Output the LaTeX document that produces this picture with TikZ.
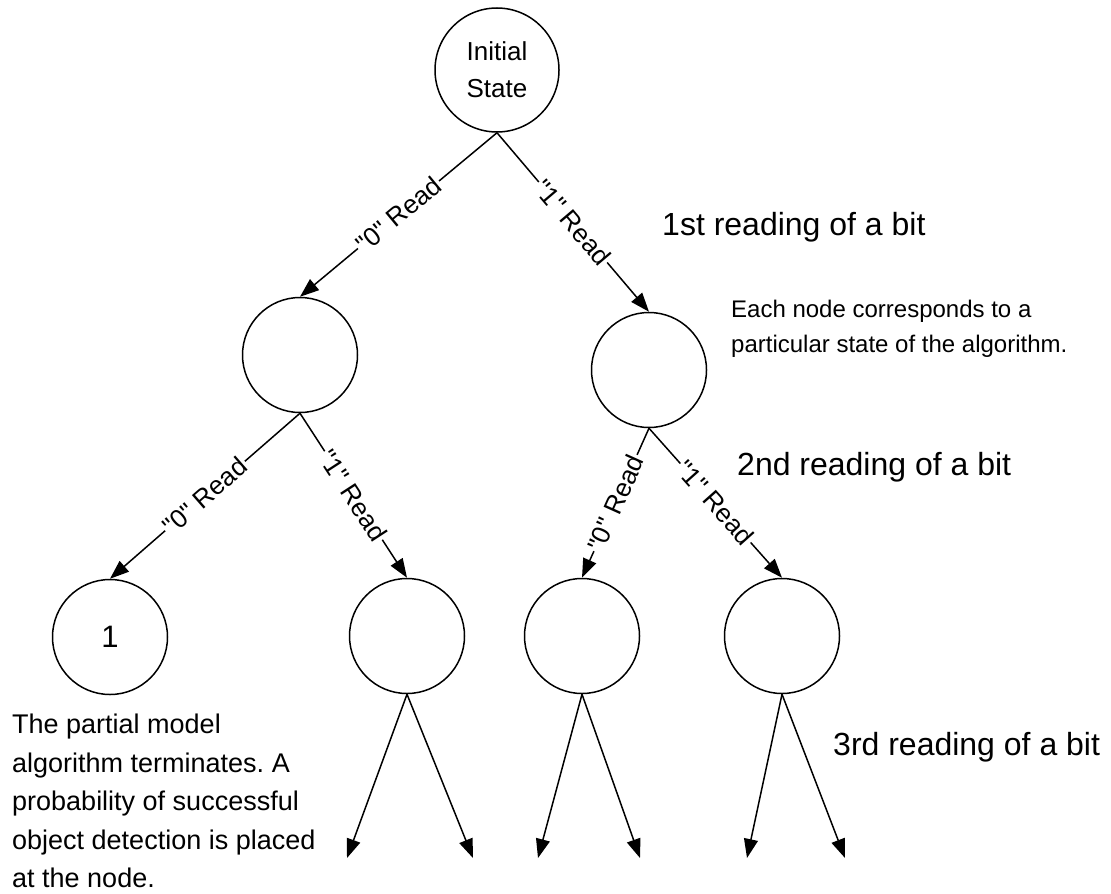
\documentclass[tikz,border=0pt]{standalone}
\usepackage{fontspec}
\setmainfont{Liberation Sans}
\usetikzlibrary{arrows.meta}
\frenchspacing
\newcommand{\qq}[1]{\textquotedbl#1\textquotedbl}
\begin{document}
\begin{tikzpicture}[x=1pt,y=-1pt,
  state/.style={draw, circle, line width=1.5pt, inner sep=0pt, minimum size=115pt},
  arr/.style={line width=1.5pt, -{Triangle[length=19pt,width=14pt]}},
  lbl/.style={sloped, fill=white, inner sep=1.5pt, font=\fontsize{26}{26}\selectfont},
  big/.style={anchor=base west, inner sep=0pt, font=\fontsize{32}{32}\selectfont},
  note/.style={anchor=north west, align=left, inner sep=0pt},
]
\useasboundingbox[fill=white] (0,0) rectangle (1111,894);

% nodes
\node[state, minimum size=124pt, align=center, font=\fontsize{26}{37}\selectfont] (root) at (497,70) {Initial\\State};
\node[state] (l1a) at (300,355) {};
\node[state] (l1b) at (649,370) {};
\node[state, font=\fontsize{31}{31}\selectfont] (l2a) at (110,637) {1};
\node[state] (l2b) at (407,636) {};
\node[state] (l2c) at (582,636) {};
\node[state] (l2d) at (782,636) {};

% free ends
\coordinate (e1) at (347,858);
\coordinate (e2) at (473,858);
\coordinate (e3) at (538,858);
\coordinate (e4) at (640,858);
\coordinate (e5) at (747,858);
\coordinate (e6) at (845,858);

% connectors
\draw[arr] (root.south) -- node[lbl] {\qq{0} Read} (l1a.north);
\draw[arr] (root.south) -- node[lbl] {\qq{1} Read} (l1b.north);
\draw[arr] (l1a.south) -- node[lbl] {\qq{0} Read} (l2a.north);
\draw[arr] (l1a.south) -- node[lbl] {\qq{1} Read} (l2b.north);
\draw[arr] (l1b.south) -- node[lbl] {\qq{0} Read} (l2c.north);
\draw[arr] (l1b.south) -- node[lbl] {\qq{1} Read} (l2d.north);
\draw[arr] (l2b.south) -- (e1);
\draw[arr] (l2b.south) -- (e2);
\draw[arr] (l2c.south) -- (e3);
\draw[arr] (l2c.south) -- (e4);
\draw[arr] (l2d.south) -- (e5);
\draw[arr] (l2d.south) -- (e6);

% texts
\node[big] (t1) at (662,235) {1st reading of a bit};
\node[big] (t2) at (737,475) {2nd reading of a bit};
\node[big] (t3) at (833,755) {3rd reading of a bit};
\node[note, font=\fontsize{24}{35}\selectfont] (n1) at (731,300) {Each node corresponds to a\\particular state of the algorithm.};
\node[note, font=\fontsize{27}{38.5}\selectfont] (n2) at (12,714) {The partial model\\algorithm terminates. A\\probability of successful\\object detection is placed\\at the node.};
\end{tikzpicture}
\end{document}
